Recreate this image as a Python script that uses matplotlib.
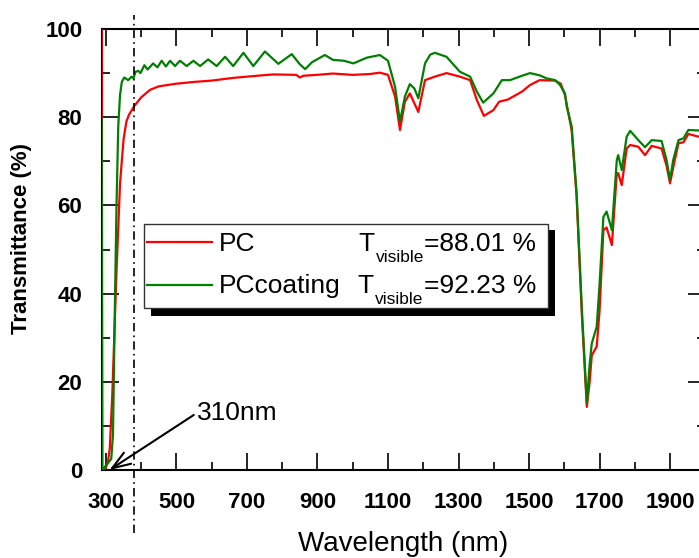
import matplotlib
matplotlib.use('Agg')
import matplotlib.pyplot as plt
from matplotlib.patches import Rectangle
from matplotlib.lines import Line2D
from matplotlib.text import Annotation
from matplotlib.ticker import FixedLocator

plt.rcParams['font.family'] = ['Liberation Sans', 'DejaVu Sans']

# ---------------- data ----------------
wl_pc = [288, 289.5, 300, 306, 311, 318, 330, 340, 350, 358, 365, 380, 400, 425, 450,
         500, 550, 600, 660, 700, 774, 840, 850, 860, 898, 944, 1000, 1050, 1077, 1100,
         1120, 1134, 1148, 1162, 1186, 1205, 1233, 1266, 1304, 1333, 1352, 1372, 1399,
         1415, 1440, 1480, 1503, 1530, 1574, 1590, 1602, 1621, 1635, 1650, 1664, 1672,
         1678, 1692, 1700, 1711, 1720, 1735, 1749, 1753, 1763, 1777, 1787, 1810, 1829,
         1848, 1876, 1890, 1900, 1910, 1924, 1938, 1952, 1980, 2000]
t_pc = [100, 0, 0.5, 2, 5, 17, 45, 65, 75, 79, 80.5, 82.5, 84.5, 86.2, 87,
        87.6, 88, 88.3, 88.9, 89.2, 89.7, 89.6, 89.0, 89.4, 89.6, 89.9, 89.6, 89.8, 90.1, 89.6,
        84.7, 77.1, 83.5, 85.4, 81.2, 88.4, 89.2, 90.0, 89.2, 88.4, 83.9, 80.3, 81.6,
        83.5, 84.0, 85.8, 87.3, 88.4, 88.3, 87.6, 85.0, 77.0, 62.0, 35.0, 14.3, 20.0,
        26.0, 28.0, 36.0, 54.4, 55.0, 51.0, 67.3, 67.3, 64.6, 72.9, 73.7, 73.3, 71.4,
        73.5, 72.9, 69.0, 65.0, 69.0, 74.1, 74.3, 76.2, 75.6, 75.5]

wl_coat = [288, 289.5, 305, 315, 320, 325, 330, 335, 340, 345, 352, 363, 373, 378, 384,
           392, 398, 409, 418, 434, 446, 458, 470, 482, 496, 510, 529, 548, 567, 590,
           614, 638, 661, 690, 718, 751, 789, 827, 850, 865, 885, 921, 944, 975, 1002,
           1040, 1077, 1100, 1120, 1134, 1148, 1162, 1175, 1186, 1205, 1220, 1233, 1266,
           1304, 1333, 1352, 1370, 1399, 1423, 1446, 1480, 1503, 1530, 1550, 1574, 1588,
           1602, 1607, 1621, 1635, 1650, 1664, 1672, 1678, 1692, 1700, 1711, 1720, 1735,
           1749, 1753, 1763, 1777, 1787, 1810, 1829, 1848, 1876, 1890, 1900, 1909, 1924,
           1938, 1952, 1980, 2000]
t_coat = [79.5, 0, 1.5, 2.5, 8, 35, 60, 78, 85, 88, 89, 88.4, 89.2, 88.8, 90.3,
          90.5, 90.0, 91.8, 90.8, 92.2, 91.3, 92.8, 91.5, 92.8, 91.6, 92.8, 91.6, 92.8, 91.6, 93.1,
          91.6, 93.7, 91.6, 94.6, 91.6, 94.9, 92.1, 94.3, 92.0, 90.9, 92.5, 94.1, 93.0, 92.8, 92.2,
          93.5, 94.1, 92.8, 86.9, 79.0, 84.7, 87.5, 86.5, 84.3, 92.2, 94.2, 94.6, 93.7,
          90.3, 89.2, 85.8, 83.3, 85.4, 88.4, 88.4, 89.4, 90.0, 89.5, 88.8, 88.4, 87.3,
          85.4, 82.4, 77.9, 62.7, 36.3, 15.1, 24.0, 28.7, 32.5, 42.0, 57.4, 58.6, 54.4,
          70.3, 71.4, 68.0, 75.6, 76.9, 74.8, 73.2, 74.8, 74.6, 70.3, 65.8, 70.3, 74.8,
          75.2, 77.1, 77.0, 77.0]

x_major = [300, 500, 700, 900, 1100, 1300, 1500, 1700, 1900]
x_minor = [400, 600, 800, 1000, 1200, 1400, 1600, 1800, 2000]
y_major = [0, 20, 40, 60, 80, 100]
y_minor = [10, 30, 50, 70, 90]
series_names = ['PC', 'PCcoating']
t_visible = ['88.01', '92.23']
uv_edge = 310          # nm, arrow target
visible_start = 380    # nm, dash-dot line

# ---------------- figure ----------------
W, H = 699, 558
fig = plt.figure(figsize=(W / 100, H / 100), dpi=100)

def fx(px):
    return px / W

def fy(py):
    return 1 - py / H

ax = fig.add_axes([fx(101.7), fy(470), (705.3 - 101.7) / W, (470 - 29) / H])

red = '#ff0000'
green = '#008000'
ax.plot(wl_pc, t_pc, color=red, lw=1.6, zorder=3)
ax.plot(wl_coat, t_coat, color=green, lw=1.6, zorder=3)

ax.set_xlim(288, 2000)
ax.set_ylim(0, 100)
ax.xaxis.set_major_locator(FixedLocator(x_major))
ax.xaxis.set_minor_locator(FixedLocator(x_minor))
ax.yaxis.set_major_locator(FixedLocator(y_major))
ax.yaxis.set_minor_locator(FixedLocator(y_minor))
ax.set_xticklabels([str(v) for v in x_major])
ax.set_yticklabels([str(v) for v in y_major])

ax.tick_params(which='both', direction='in', top=True, right=True, width=1.2)
ax.tick_params(which='major', length=12, labelsize=16)
ax.tick_params(which='minor', length=6)
ax.tick_params(axis='x', which='major', pad=15.5)
ax.tick_params(axis='y', which='major', pad=14)
for lab in ax.get_xticklabels() + ax.get_yticklabels():
    lab.set_fontweight('bold')
for sp in ax.spines.values():
    sp.set_linewidth(1.5)

# dash-dot vertical line
ax.axvline(visible_start, ymin=-0.143, ymax=1.032, color='k', lw=1.2,
           ls=(0, (5, 2.5, 1, 2.5)), clip_on=False, zorder=4)

# arrow annotation
ax.annotate('310nm', xy=(uv_edge, 0), xytext=(557, 11.3), textcoords='data',
            fontsize=19, va='baseline', ha='left', annotation_clip=False,
            arrowprops=dict(arrowstyle='->,head_length=0.7,head_width=0.25',
                            color='k', lw=1.5, shrinkA=0, shrinkB=0,
                            relpos=(0, 0.5)))

# axis labels
fig.text(fx(21.7), fy(239), 'Transmittance (%)', rotation=90, fontsize=16,
         fontweight='bold', ha='center', va='center')
fig.text(fx(403.4), fy(551), 'Wavelength (nm)', fontsize=20, ha='center',
         va='baseline')

# ---------------- custom legend ----------------
shadow = Rectangle((fx(151), fy(316)), (555 - 151) / W, (316 - 230) / H,
                   transform=fig.transFigure, fc='k', ec='none', zorder=5)
box = Rectangle((fx(144), fy(308)), (548 - 144) / W, (308 - 224) / H,
                transform=fig.transFigure, fc='white', ec='#333333', lw=1.0, zorder=6)
fig.add_artist(shadow)
fig.add_artist(box)

rows = [(250.7, 241.7, 358.0, red), (293.3, 285.0, 357.0, green)]
for (base, liney, tx, col), name, tv in zip(rows, series_names, t_visible):
    fig.add_artist(Line2D([fx(147), fx(212)], [fy(liney), fy(liney)],
                          transform=fig.transFigure, color=col, lw=1.6, zorder=7))
    fig.text(fx(219), fy(base), name, fontsize=19, va='baseline', zorder=7)
    tT = fig.text(fx(tx), fy(base), 'T', fontsize=19, va='baseline', zorder=7)
    tsub = Annotation('visible', xy=(1, H - (base + 11)), xycoords=(tT, 'figure pixels'),
                      xytext=(2, 0), textcoords='offset pixels', fontsize=12.5,
                      va='baseline', ha='left', annotation_clip=False)
    tsub.set_zorder(7)
    fig.add_artist(tsub)
    tval = Annotation('=' + tv + ' %', xy=(1, H - base), xycoords=(tsub, 'figure pixels'),
                      xytext=(0, 0), textcoords='offset pixels', fontsize=19,
                      va='baseline', ha='left', annotation_clip=False)
    tval.set_zorder(8)
    fig.add_artist(tval)

fig.savefig('out.png', dpi=100)
